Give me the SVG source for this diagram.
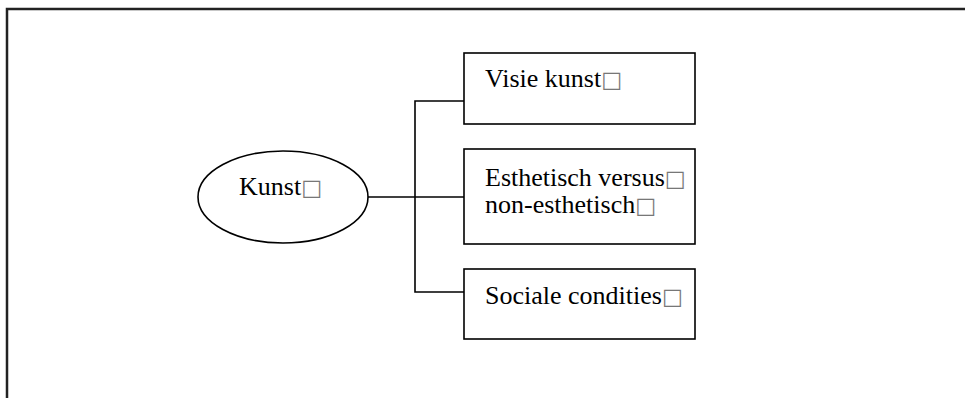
<svg xmlns="http://www.w3.org/2000/svg" width="965" height="398" viewBox="0 0 965 398">
  <style>
    .frame { fill: none; stroke: #222; stroke-width: 2.5; }
    .shape { fill: #fff; stroke: #000; stroke-width: 1.6; }
    .conn { fill: none; stroke: #000; stroke-width: 1.6; }
    .lbl { font-family: "Liberation Serif", "Times New Roman", serif; font-size: 26px; fill: #000; }
    .mark { font-family: "DejaVu Sans", sans-serif; font-size: 22px; fill: #777; }
  </style>
  <rect width="965" height="398" fill="#fff"/>

  <!-- page frame: left and top edges -->
  <path class="frame" d="M7,398 V9 H965"/>

  <!-- connectors -->
  <g id="connectors">
    <path class="conn" d="M368,197 H464"/>
    <path class="conn" d="M464,101 H415 V292 H464"/>
  </g>

  <g id="node-kunst">
    <ellipse class="shape" cx="283" cy="197" rx="85" ry="46"/>
    <text class="lbl" x="239" y="195">Kunst<tspan class="mark">□</tspan></text>
  </g>

  <g id="node-visie">
    <rect class="shape" x="464" y="53" width="231" height="71"/>
    <text class="lbl" x="485" y="87">Visie kunst<tspan class="mark">□</tspan></text>
  </g>

  <g id="node-esthetisch">
    <rect class="shape" x="464" y="149" width="231" height="95"/>
    <text class="lbl" x="485" y="186">Esthetisch versus<tspan class="mark">□</tspan></text>
    <text class="lbl" x="485" y="213">non-esthetisch<tspan class="mark">□</tspan></text>
  </g>

  <g id="node-sociale">
    <rect class="shape" x="464" y="269" width="231" height="70"/>
    <text class="lbl" x="485" y="304">Sociale condities<tspan class="mark">□</tspan></text>
  </g>
</svg>
